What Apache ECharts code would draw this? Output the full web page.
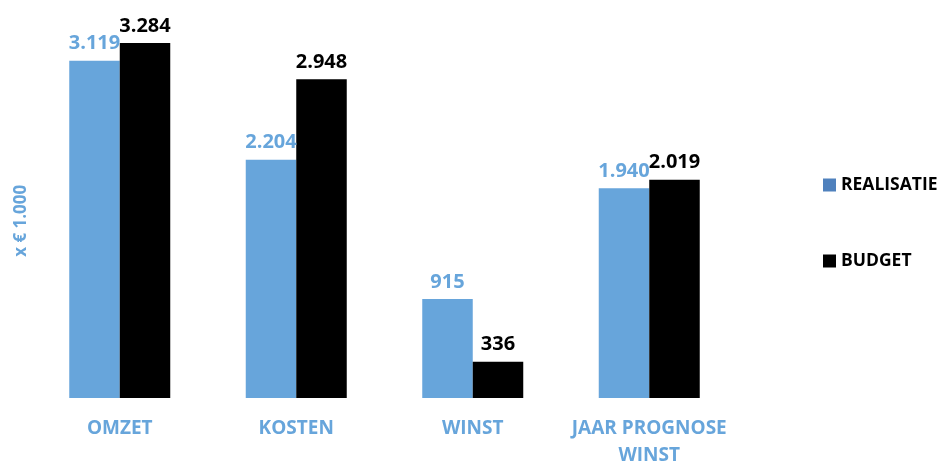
<!DOCTYPE html>
<html>
<head>
<meta charset="utf-8">
<script src="https://cdn.jsdelivr.net/npm/echarts@6/dist/echarts.min.js"></script>
<style>
  html, body { margin: 0; padding: 0; background: #fff; }
  #chart { width: 941px; height: 463px; }
</style>
</head>
<body>
<div id="chart"></div>
<script>
// categorieën en waarden (x € 1.000)
var categories = ['OMZET', 'KOSTEN', 'WINST', 'JAAR PROGNOSE\nWINST'];
var realisatie = [3119, 2204, 915, 1940];
var budget = [3284, 2948, 336, 2019];

var blue = '#67a5db';
var font = '"Open Sans", "Liberation Sans", sans-serif';

// getal met punt als duizendtal-scheiding
function fmt(v) {
  return String(v).replace(/\B(?=(\d{3})+(?!\d))/g, '.');
}

var myChart = echarts.init(document.getElementById('chart'));
var option = {
  animation: false,
  textStyle: { fontFamily: font },
  grid: { left: 31.5, right: 203.5, top: 19.6, bottom: 65, outerBoundsMode: 'none' },
  legend: {
    orient: 'vertical',
    left: 818,
    top: 171,
    itemGap: 58,
    itemWidth: 13,
    itemHeight: 13,
    icon: 'rect',
    textStyle: { fontSize: 17.5, fontWeight: 'bold', color: '#000', fontFamily: font },
    data: [
      { name: 'REALISATIE', itemStyle: { color: '#4f81bd' } },
      { name: 'BUDGET', itemStyle: { color: '#000' } }
    ]
  },
  xAxis: {
    type: 'category',
    data: categories,
    axisLine: { show: false },
    axisTick: { show: false },
    axisLabel: {
      interval: 0,
      color: blue,
      fontWeight: 'bold',
      fontSize: 19,
      margin: 17,
      lineHeight: 27,
      fontFamily: font
    }
  },
  yAxis: {
    type: 'value',
    min: 0,
    max: 3500,
    name: 'x € 1.000',
    nameLocation: 'middle',
    nameGap: 2,
    nameRotate: 90,
    nameTextStyle: {
      color: blue, fontWeight: 'bold', fontSize: 17, fontFamily: font,
      padding: [0, 24, 0, 0]
    },
    axisLine: { show: false },
    axisTick: { show: false },
    axisLabel: { show: false },
    splitLine: { show: false }
  },
  series: [
    {
      name: 'REALISATIE',
      type: 'bar',
      data: realisatie,
      barWidth: 50.5,
      barGap: '0%',
      itemStyle: { color: blue },
      label: {
        show: true,
        position: 'top',
        distance: 7,
        formatter: function (p) { return fmt(p.value); },
        color: blue,
        fontWeight: 'bold',
        fontSize: 20,
        fontFamily: font
      }
    },
    {
      name: 'BUDGET',
      type: 'bar',
      data: budget,
      barWidth: 50.5,
      barGap: '0%',
      itemStyle: { color: '#000' },
      label: {
        show: true,
        position: 'top',
        distance: 7,
        formatter: function (p) { return fmt(p.value); },
        color: '#000',
        fontWeight: 'bold',
        fontSize: 20,
        fontFamily: font
      }
    }
  ]
};
myChart.setOption(option);
</script>
</body>
</html>
